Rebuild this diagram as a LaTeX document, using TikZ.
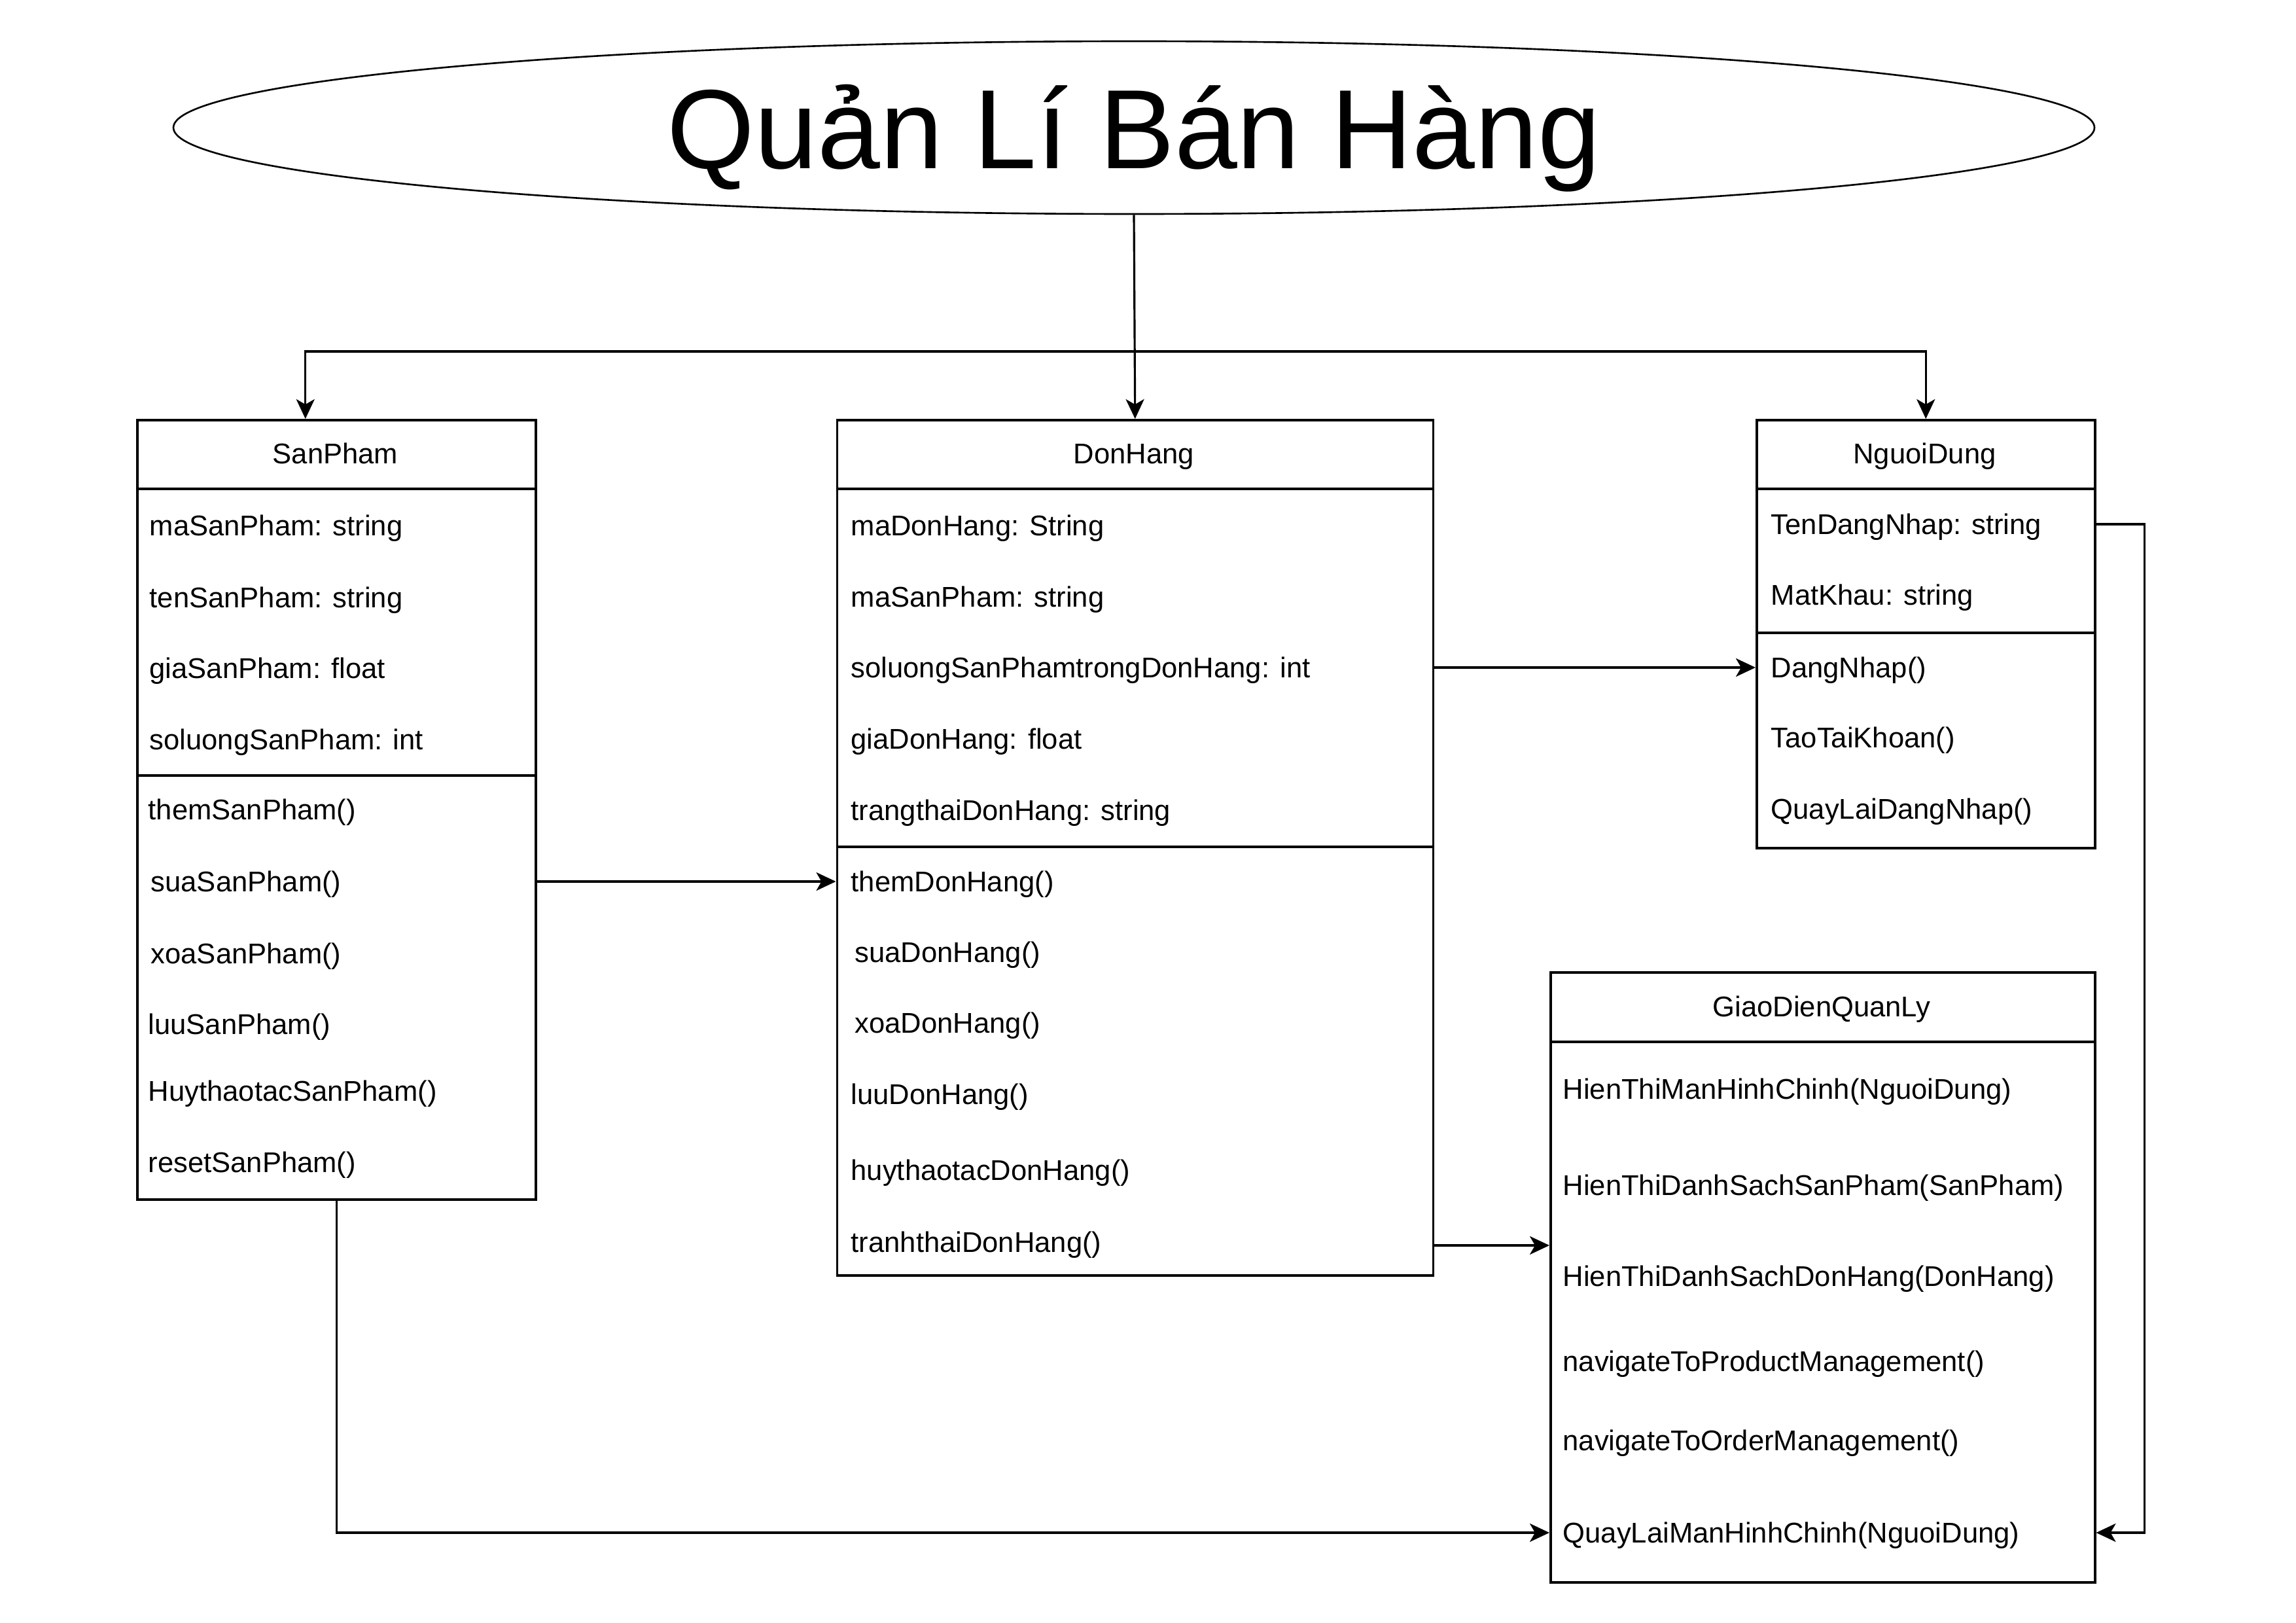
\documentclass[tikz,border=0pt]{standalone}
\usepackage{fontspec}
\setmainfont{Liberation Sans}
\usetikzlibrary{positioning, arrows.meta, shapes.geometric}

\begin{document}
\begin{tikzpicture}[
        classbox/.style={draw, line width=1pt, anchor=north west, inner sep=0pt},
        headtext/.style={inner sep=0pt, text height=0.31cm, text depth=0pt, font=\fontsize{12.4pt}{14pt}\selectfont},
        rowtext/.style={anchor=west, inner sep=0pt, text height=0.31cm, text depth=0pt, font=\fontsize{12.4pt}{14pt}\selectfont},
        divider/.style={line width=1pt},
        arrow/.style={-{Stealth[length=0.3cm, width=0.28cm, inset=0.08cm]}, line width=0.9pt}
    ]
    \useasboundingbox (0,0) rectangle (35.09,-24.80);

    % tieu de
    \node[ellipse, draw, line width=0.75pt, minimum width=29.36cm, minimum height=2.64cm, inner sep=0pt,
          text height=1.30cm, text depth=0.04cm, font=\fontsize{49pt}{58pt}\selectfont] (title) at (17.33,-1.95) {Quản Lí Bán Hàng};

    % SanPham
    \node[classbox, minimum width=6.09cm, minimum height=11.91cm] (sp) at (2.08,-6.40) {};
    \node[headtext] (spHead) at (5.125,-6.93) {SanPham};
    \draw[divider] ([yshift=-1.07cm]sp.north west) -- ([yshift=-1.07cm]sp.north east);
    \draw[divider] ([yshift=-5.45cm]sp.north west) -- ([yshift=-5.45cm]sp.north east);
    \node[rowtext] (spMa) at (2.28,-8.03) {maSanPham: string};
    \node[rowtext] (spTen) at (2.28,-9.13) {tenSanPham: string};
    \node[rowtext] (spGia) at (2.28,-10.21) {giaSanPham: float};
    \node[rowtext] (spSoluong) at (2.28,-11.30) {soluongSanPham: int};
    \node[rowtext] (spThem) at (2.26,-12.37) {themSanPham()};
    \node[rowtext] (spSua) at (2.30,-13.47) {suaSanPham()};
    \node[rowtext] (spXoa) at (2.30,-14.57) {xoaSanPham()};
    \node[rowtext] (spLuu) at (2.26,-15.65) {luuSanPham()};
    \node[rowtext] (spHuy) at (2.26,-16.67) {HuythaotacSanPham()};
    \node[rowtext] (spReset) at (2.26,-17.76) {resetSanPham()};

    % DonHang
    \node[classbox, minimum width=9.11cm, minimum height=13.07cm] (dh) at (12.775,-6.40) {};
    \node[headtext] (dhHead) at (17.33,-6.93) {DonHang};
    \draw[divider] ([yshift=-1.07cm]dh.north west) -- ([yshift=-1.07cm]dh.north east);
    \draw[divider] ([yshift=-6.54cm]dh.north west) -- ([yshift=-6.54cm]dh.north east);
    \node[rowtext] (dhMa) at (13.00,-8.03) {maDonHang: String};
    \node[rowtext] (dhMaSp) at (13.00,-9.12) {maSanPham: string};
    \node[rowtext] (dhSoluong) at (13.00,-10.20) {soluongSanPhamtrongDonHang: int};
    \node[rowtext] (dhGia) at (13.00,-11.29) {giaDonHang: float};
    \node[rowtext] (dhTrangthai) at (13.00,-12.38) {trangthaiDonHang: string};
    \node[rowtext] (dhThem) at (13.00,-13.47) {themDonHang()};
    \node[rowtext] (dhSua) at (13.06,-14.55) {suaDonHang()};
    \node[rowtext] (dhXoa) at (13.06,-15.63) {xoaDonHang()};
    \node[rowtext] (dhLuu) at (13.00,-16.72) {luuDonHang()};
    \node[rowtext] (dhHuy) at (13.00,-17.88) {huythaotacDonHang()};
    \node[rowtext] (dhTranh) at (13.00,-18.98) {tranhthaiDonHang()};

    % NguoiDung
    \node[classbox, minimum width=5.17cm, minimum height=6.54cm] (nd) at (26.83,-6.40) {};
    \node[headtext] (ndHead) at (29.415,-6.93) {NguoiDung};
    \draw[divider] ([yshift=-1.07cm]nd.north west) -- ([yshift=-1.07cm]nd.north east);
    \draw[divider] ([yshift=-3.27cm]nd.north west) -- ([yshift=-3.27cm]nd.north east);
    \node[rowtext] (ndTen) at (27.06,-8.01) {TenDangNhap: string};
    \node[rowtext] (ndMat) at (27.06,-9.09) {MatKhau: string};
    \node[rowtext] (ndDang) at (27.06,-10.20) {DangNhap()};
    \node[rowtext] (ndTao) at (27.06,-11.27) {TaoTaiKhoan()};
    \node[rowtext] (ndQuay) at (27.06,-12.36) {QuayLaiDangNhap()};

    % GiaoDienQuanLy
    \node[classbox, minimum width=8.32cm, minimum height=9.32cm] (gd) at (23.68,-14.84) {};
    \node[headtext] (gdHead) at (27.84,-15.38) {GiaoDienQuanLy};
    \draw[divider] ([yshift=-1.08cm]gd.north west) -- ([yshift=-1.08cm]gd.north east);
    \node[rowtext] (gdMan) at (23.88,-16.64) {HienThiManHinhChinh(NguoiDung)};
    \node[rowtext] (gdDsSp) at (23.88,-18.11) {HienThiDanhSachSanPham(SanPham)};
    \node[rowtext] (gdDsDh) at (23.88,-19.50) {HienThiDanhSachDonHang(DonHang)};
    \node[rowtext] (gdProduct) at (23.88,-20.80) {navigateToProductManagement()};
    \node[rowtext] (gdOrder) at (23.88,-22.01) {navigateToOrderManagement()};
    \node[rowtext] (gdQuay) at (23.88,-23.42) {QuayLaiManHinhChinh(NguoiDung)};

    % mui ten
    \coordinate (split) at (17.33,-5.37);
    \draw[arrow] (title.south) -- (dh.north);
    \draw[arrow] (split) -| ([xshift=-0.475cm]sp.north);
    \draw[arrow] (split) -| (nd.north);
    \draw[arrow] (sp.east |- spSua) -- (dh.west |- dhThem);
    \draw[arrow] (dh.east |- dhSoluong) -- (nd.west |- ndDang);
    \draw[arrow] ([yshift=-0.05cm]dh.east |- dhTranh) -- ([yshift=-0.05cm]gd.west |- dhTranh);
    \draw[arrow] (sp.south) |- (gd.west |- gdQuay);
    \draw[arrow] (nd.east |- ndTen) -- ++(0.74,0) |- (gd.east |- gdQuay);
\end{tikzpicture}
\end{document}
